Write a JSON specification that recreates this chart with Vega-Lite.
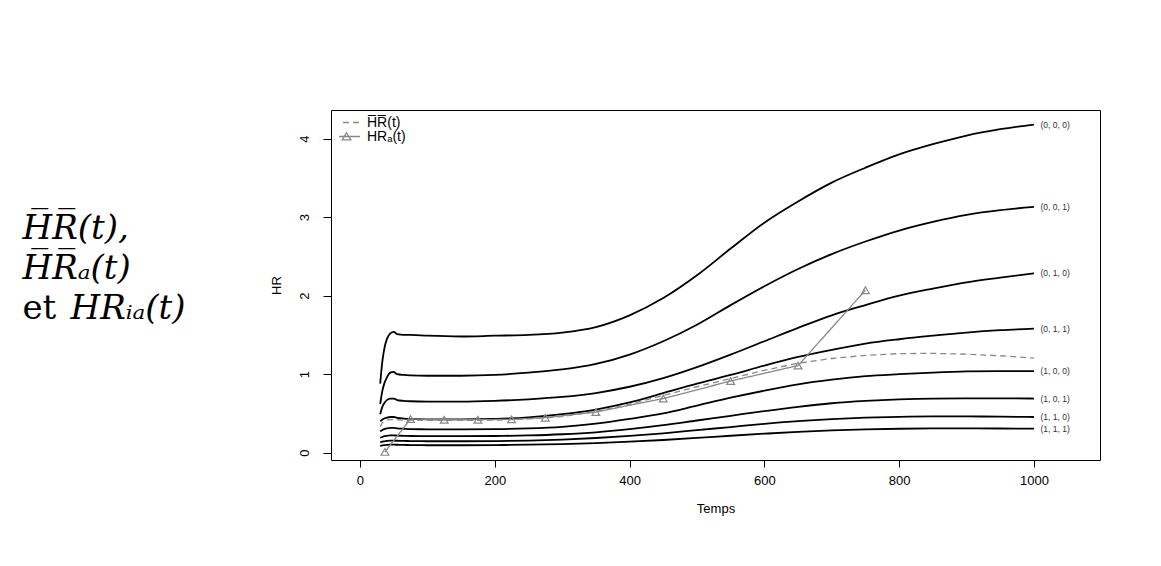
{
  "$schema": "https://vega.github.io/schema/vega-lite/v6.json",
  "background": "white",
  "padding": {"left": 22, "top": 109, "right": 0, "bottom": 0},
  "autosize": {"type": "pad"},
  "spacing": 308,
  "bounds": "flush",
  "config": {"font": "Liberation Sans", "axis": {"grid": false}},
  "datasets": {
    "textes": [
      {"ligne": 1, "texte": "H̅R̅(t),"},
      {"ligne": 2, "texte": "H̅R̅ₐ(t)"},
      {"ligne": 3, "texte": "HRᵢₐ(t)"}
    ],
    "courbes": [
      {"serie":"(0, 0, 0)","t":30,"hr":0.88},{"serie":"(0, 0, 0)","t":33,"hr":1.15},{"serie":"(0, 0, 0)","t":36,"hr":1.32},{"serie":"(0, 0, 0)","t":40,"hr":1.45},{"serie":"(0, 0, 0)","t":45,"hr":1.52},{"serie":"(0, 0, 0)","t":50,"hr":1.54},{"serie":"(0, 0, 0)","t":55,"hr":1.51},{"serie":"(0, 0, 0)","t":65,"hr":1.5},{"serie":"(0, 0, 0)","t":75,"hr":1.5},{"serie":"(0, 0, 0)","t":100,"hr":1.49},{"serie":"(0, 0, 0)","t":150,"hr":1.48},{"serie":"(0, 0, 0)","t":200,"hr":1.49},{"serie":"(0, 0, 0)","t":250,"hr":1.5},{"serie":"(0, 0, 0)","t":300,"hr":1.53},{"serie":"(0, 0, 0)","t":350,"hr":1.6},{"serie":"(0, 0, 0)","t":400,"hr":1.75},{"serie":"(0, 0, 0)","t":450,"hr":1.97},{"serie":"(0, 0, 0)","t":500,"hr":2.26},{"serie":"(0, 0, 0)","t":550,"hr":2.6},{"serie":"(0, 0, 0)","t":600,"hr":2.93},{"serie":"(0, 0, 0)","t":650,"hr":3.2},{"serie":"(0, 0, 0)","t":700,"hr":3.44},{"serie":"(0, 0, 0)","t":750,"hr":3.63},{"serie":"(0, 0, 0)","t":800,"hr":3.8},{"serie":"(0, 0, 0)","t":850,"hr":3.93},{"serie":"(0, 0, 0)","t":900,"hr":4.04},{"serie":"(0, 0, 0)","t":950,"hr":4.12},{"serie":"(0, 0, 0)","t":1000,"hr":4.18},
      {"serie":"(0, 0, 1)","t":30,"hr":0.62},{"serie":"(0, 0, 1)","t":33,"hr":0.78},{"serie":"(0, 0, 1)","t":36,"hr":0.88},{"serie":"(0, 0, 1)","t":40,"hr":0.96},{"serie":"(0, 0, 1)","t":45,"hr":1.02},{"serie":"(0, 0, 1)","t":50,"hr":1.03},{"serie":"(0, 0, 1)","t":55,"hr":1.0},{"serie":"(0, 0, 1)","t":65,"hr":0.99},{"serie":"(0, 0, 1)","t":75,"hr":0.985},{"serie":"(0, 0, 1)","t":100,"hr":0.98},{"serie":"(0, 0, 1)","t":150,"hr":0.98},{"serie":"(0, 0, 1)","t":200,"hr":0.99},{"serie":"(0, 0, 1)","t":250,"hr":1.02},{"serie":"(0, 0, 1)","t":300,"hr":1.06},{"serie":"(0, 0, 1)","t":350,"hr":1.13},{"serie":"(0, 0, 1)","t":400,"hr":1.25},{"serie":"(0, 0, 1)","t":450,"hr":1.42},{"serie":"(0, 0, 1)","t":500,"hr":1.63},{"serie":"(0, 0, 1)","t":550,"hr":1.88},{"serie":"(0, 0, 1)","t":600,"hr":2.12},{"serie":"(0, 0, 1)","t":650,"hr":2.34},{"serie":"(0, 0, 1)","t":700,"hr":2.53},{"serie":"(0, 0, 1)","t":750,"hr":2.69},{"serie":"(0, 0, 1)","t":800,"hr":2.83},{"serie":"(0, 0, 1)","t":850,"hr":2.94},{"serie":"(0, 0, 1)","t":900,"hr":3.03},{"serie":"(0, 0, 1)","t":950,"hr":3.09},{"serie":"(0, 0, 1)","t":1000,"hr":3.13},
      {"serie":"(0, 1, 0)","t":30,"hr":0.49},{"serie":"(0, 1, 0)","t":33,"hr":0.58},{"serie":"(0, 1, 0)","t":36,"hr":0.63},{"serie":"(0, 1, 0)","t":40,"hr":0.67},{"serie":"(0, 1, 0)","t":45,"hr":0.69},{"serie":"(0, 1, 0)","t":50,"hr":0.69},{"serie":"(0, 1, 0)","t":55,"hr":0.67},{"serie":"(0, 1, 0)","t":65,"hr":0.66},{"serie":"(0, 1, 0)","t":75,"hr":0.655},{"serie":"(0, 1, 0)","t":100,"hr":0.65},{"serie":"(0, 1, 0)","t":150,"hr":0.65},{"serie":"(0, 1, 0)","t":200,"hr":0.66},{"serie":"(0, 1, 0)","t":250,"hr":0.68},{"serie":"(0, 1, 0)","t":300,"hr":0.71},{"serie":"(0, 1, 0)","t":350,"hr":0.76},{"serie":"(0, 1, 0)","t":400,"hr":0.84},{"serie":"(0, 1, 0)","t":450,"hr":0.95},{"serie":"(0, 1, 0)","t":500,"hr":1.09},{"serie":"(0, 1, 0)","t":550,"hr":1.25},{"serie":"(0, 1, 0)","t":600,"hr":1.42},{"serie":"(0, 1, 0)","t":650,"hr":1.59},{"serie":"(0, 1, 0)","t":700,"hr":1.75},{"serie":"(0, 1, 0)","t":750,"hr":1.88},{"serie":"(0, 1, 0)","t":800,"hr":2.0},{"serie":"(0, 1, 0)","t":850,"hr":2.09},{"serie":"(0, 1, 0)","t":900,"hr":2.17},{"serie":"(0, 1, 0)","t":950,"hr":2.23},{"serie":"(0, 1, 0)","t":1000,"hr":2.285},
      {"serie":"(0, 1, 1)","t":30,"hr":0.4},{"serie":"(0, 1, 1)","t":33,"hr":0.42},{"serie":"(0, 1, 1)","t":36,"hr":0.435},{"serie":"(0, 1, 1)","t":40,"hr":0.447},{"serie":"(0, 1, 1)","t":45,"hr":0.455},{"serie":"(0, 1, 1)","t":50,"hr":0.455},{"serie":"(0, 1, 1)","t":55,"hr":0.445},{"serie":"(0, 1, 1)","t":65,"hr":0.435},{"serie":"(0, 1, 1)","t":75,"hr":0.43},{"serie":"(0, 1, 1)","t":100,"hr":0.425},{"serie":"(0, 1, 1)","t":150,"hr":0.425},{"serie":"(0, 1, 1)","t":200,"hr":0.43},{"serie":"(0, 1, 1)","t":250,"hr":0.45},{"serie":"(0, 1, 1)","t":300,"hr":0.49},{"serie":"(0, 1, 1)","t":350,"hr":0.55},{"serie":"(0, 1, 1)","t":400,"hr":0.64},{"serie":"(0, 1, 1)","t":450,"hr":0.76},{"serie":"(0, 1, 1)","t":500,"hr":0.88},{"serie":"(0, 1, 1)","t":550,"hr":0.99},{"serie":"(0, 1, 1)","t":600,"hr":1.11},{"serie":"(0, 1, 1)","t":650,"hr":1.22},{"serie":"(0, 1, 1)","t":700,"hr":1.31},{"serie":"(0, 1, 1)","t":750,"hr":1.39},{"serie":"(0, 1, 1)","t":800,"hr":1.445},{"serie":"(0, 1, 1)","t":850,"hr":1.49},{"serie":"(0, 1, 1)","t":900,"hr":1.53},{"serie":"(0, 1, 1)","t":950,"hr":1.56},{"serie":"(0, 1, 1)","t":1000,"hr":1.58},
      {"serie":"(1, 0, 0)","t":30,"hr":0.27},{"serie":"(1, 0, 0)","t":33,"hr":0.29},{"serie":"(1, 0, 0)","t":36,"hr":0.3},{"serie":"(1, 0, 0)","t":40,"hr":0.31},{"serie":"(1, 0, 0)","t":45,"hr":0.315},{"serie":"(1, 0, 0)","t":50,"hr":0.315},{"serie":"(1, 0, 0)","t":55,"hr":0.31},{"serie":"(1, 0, 0)","t":65,"hr":0.305},{"serie":"(1, 0, 0)","t":75,"hr":0.3},{"serie":"(1, 0, 0)","t":100,"hr":0.298},{"serie":"(1, 0, 0)","t":150,"hr":0.297},{"serie":"(1, 0, 0)","t":200,"hr":0.3},{"serie":"(1, 0, 0)","t":250,"hr":0.31},{"serie":"(1, 0, 0)","t":300,"hr":0.33},{"serie":"(1, 0, 0)","t":350,"hr":0.37},{"serie":"(1, 0, 0)","t":400,"hr":0.43},{"serie":"(1, 0, 0)","t":450,"hr":0.5},{"serie":"(1, 0, 0)","t":500,"hr":0.6},{"serie":"(1, 0, 0)","t":550,"hr":0.7},{"serie":"(1, 0, 0)","t":600,"hr":0.79},{"serie":"(1, 0, 0)","t":650,"hr":0.87},{"serie":"(1, 0, 0)","t":700,"hr":0.93},{"serie":"(1, 0, 0)","t":750,"hr":0.975},{"serie":"(1, 0, 0)","t":800,"hr":1.0},{"serie":"(1, 0, 0)","t":850,"hr":1.02},{"serie":"(1, 0, 0)","t":900,"hr":1.035},{"serie":"(1, 0, 0)","t":950,"hr":1.04},{"serie":"(1, 0, 0)","t":1000,"hr":1.04},
      {"serie":"(1, 0, 1)","t":30,"hr":0.19},{"serie":"(1, 0, 1)","t":33,"hr":0.2},{"serie":"(1, 0, 1)","t":36,"hr":0.21},{"serie":"(1, 0, 1)","t":40,"hr":0.215},{"serie":"(1, 0, 1)","t":45,"hr":0.22},{"serie":"(1, 0, 1)","t":50,"hr":0.22},{"serie":"(1, 0, 1)","t":55,"hr":0.218},{"serie":"(1, 0, 1)","t":65,"hr":0.215},{"serie":"(1, 0, 1)","t":75,"hr":0.213},{"serie":"(1, 0, 1)","t":100,"hr":0.21},{"serie":"(1, 0, 1)","t":150,"hr":0.21},{"serie":"(1, 0, 1)","t":200,"hr":0.213},{"serie":"(1, 0, 1)","t":250,"hr":0.22},{"serie":"(1, 0, 1)","t":300,"hr":0.235},{"serie":"(1, 0, 1)","t":350,"hr":0.26},{"serie":"(1, 0, 1)","t":400,"hr":0.3},{"serie":"(1, 0, 1)","t":450,"hr":0.35},{"serie":"(1, 0, 1)","t":500,"hr":0.41},{"serie":"(1, 0, 1)","t":550,"hr":0.47},{"serie":"(1, 0, 1)","t":600,"hr":0.53},{"serie":"(1, 0, 1)","t":650,"hr":0.585},{"serie":"(1, 0, 1)","t":700,"hr":0.63},{"serie":"(1, 0, 1)","t":750,"hr":0.66},{"serie":"(1, 0, 1)","t":800,"hr":0.68},{"serie":"(1, 0, 1)","t":850,"hr":0.69},{"serie":"(1, 0, 1)","t":900,"hr":0.692},{"serie":"(1, 0, 1)","t":950,"hr":0.692},{"serie":"(1, 0, 1)","t":1000,"hr":0.69},
      {"serie":"(1, 1, 0)","t":30,"hr":0.13},{"serie":"(1, 1, 0)","t":33,"hr":0.14},{"serie":"(1, 1, 0)","t":36,"hr":0.145},{"serie":"(1, 1, 0)","t":40,"hr":0.15},{"serie":"(1, 1, 0)","t":45,"hr":0.153},{"serie":"(1, 1, 0)","t":50,"hr":0.153},{"serie":"(1, 1, 0)","t":55,"hr":0.152},{"serie":"(1, 1, 0)","t":65,"hr":0.15},{"serie":"(1, 1, 0)","t":75,"hr":0.148},{"serie":"(1, 1, 0)","t":100,"hr":0.146},{"serie":"(1, 1, 0)","t":150,"hr":0.146},{"serie":"(1, 1, 0)","t":200,"hr":0.148},{"serie":"(1, 1, 0)","t":250,"hr":0.155},{"serie":"(1, 1, 0)","t":300,"hr":0.167},{"serie":"(1, 1, 0)","t":350,"hr":0.187},{"serie":"(1, 1, 0)","t":400,"hr":0.213},{"serie":"(1, 1, 0)","t":450,"hr":0.247},{"serie":"(1, 1, 0)","t":500,"hr":0.287},{"serie":"(1, 1, 0)","t":550,"hr":0.327},{"serie":"(1, 1, 0)","t":600,"hr":0.367},{"serie":"(1, 1, 0)","t":650,"hr":0.402},{"serie":"(1, 1, 0)","t":700,"hr":0.428},{"serie":"(1, 1, 0)","t":750,"hr":0.446},{"serie":"(1, 1, 0)","t":800,"hr":0.457},{"serie":"(1, 1, 0)","t":850,"hr":0.462},{"serie":"(1, 1, 0)","t":900,"hr":0.462},{"serie":"(1, 1, 0)","t":950,"hr":0.459},{"serie":"(1, 1, 0)","t":1000,"hr":0.455},
      {"serie":"(1, 1, 1)","t":30,"hr":0.085},{"serie":"(1, 1, 1)","t":33,"hr":0.092},{"serie":"(1, 1, 1)","t":36,"hr":0.096},{"serie":"(1, 1, 1)","t":40,"hr":0.1},{"serie":"(1, 1, 1)","t":45,"hr":0.102},{"serie":"(1, 1, 1)","t":50,"hr":0.102},{"serie":"(1, 1, 1)","t":55,"hr":0.101},{"serie":"(1, 1, 1)","t":65,"hr":0.099},{"serie":"(1, 1, 1)","t":75,"hr":0.097},{"serie":"(1, 1, 1)","t":100,"hr":0.095},{"serie":"(1, 1, 1)","t":150,"hr":0.095},{"serie":"(1, 1, 1)","t":200,"hr":0.097},{"serie":"(1, 1, 1)","t":250,"hr":0.102},{"serie":"(1, 1, 1)","t":300,"hr":0.11},{"serie":"(1, 1, 1)","t":350,"hr":0.123},{"serie":"(1, 1, 1)","t":400,"hr":0.14},{"serie":"(1, 1, 1)","t":450,"hr":0.162},{"serie":"(1, 1, 1)","t":500,"hr":0.188},{"serie":"(1, 1, 1)","t":550,"hr":0.216},{"serie":"(1, 1, 1)","t":600,"hr":0.242},{"serie":"(1, 1, 1)","t":650,"hr":0.266},{"serie":"(1, 1, 1)","t":700,"hr":0.285},{"serie":"(1, 1, 1)","t":750,"hr":0.298},{"serie":"(1, 1, 1)","t":800,"hr":0.305},{"serie":"(1, 1, 1)","t":850,"hr":0.309},{"serie":"(1, 1, 1)","t":900,"hr":0.31},{"serie":"(1, 1, 1)","t":950,"hr":0.308},{"serie":"(1, 1, 1)","t":1000,"hr":0.306}
    ],
    "moyennes": [
      {"serie":"H̅R̅(t)","t":30,"hr":0.33},{"serie":"H̅R̅(t)","t":33,"hr":0.38},{"serie":"H̅R̅(t)","t":36,"hr":0.4},{"serie":"H̅R̅(t)","t":40,"hr":0.415},{"serie":"H̅R̅(t)","t":45,"hr":0.42},{"serie":"H̅R̅(t)","t":50,"hr":0.42},{"serie":"H̅R̅(t)","t":55,"hr":0.418},{"serie":"H̅R̅(t)","t":65,"hr":0.415},{"serie":"H̅R̅(t)","t":75,"hr":0.415},{"serie":"H̅R̅(t)","t":100,"hr":0.413},{"serie":"H̅R̅(t)","t":150,"hr":0.412},{"serie":"H̅R̅(t)","t":200,"hr":0.415},{"serie":"H̅R̅(t)","t":250,"hr":0.43},{"serie":"H̅R̅(t)","t":300,"hr":0.46},{"serie":"H̅R̅(t)","t":350,"hr":0.525},{"serie":"H̅R̅(t)","t":400,"hr":0.62},{"serie":"H̅R̅(t)","t":450,"hr":0.73},{"serie":"H̅R̅(t)","t":500,"hr":0.84},{"serie":"H̅R̅(t)","t":550,"hr":0.945},{"serie":"H̅R̅(t)","t":600,"hr":1.05},{"serie":"H̅R̅(t)","t":650,"hr":1.14},{"serie":"H̅R̅(t)","t":700,"hr":1.2},{"serie":"H̅R̅(t)","t":750,"hr":1.24},{"serie":"H̅R̅(t)","t":800,"hr":1.262},{"serie":"H̅R̅(t)","t":850,"hr":1.265},{"serie":"H̅R̅(t)","t":900,"hr":1.255},{"serie":"H̅R̅(t)","t":950,"hr":1.235},{"serie":"H̅R̅(t)","t":1000,"hr":1.205},
      {"serie":"HRₐ(t)","t":37,"hr":0.01},{"serie":"HRₐ(t)","t":75,"hr":0.43},{"serie":"HRₐ(t)","t":125,"hr":0.42},{"serie":"HRₐ(t)","t":175,"hr":0.42},{"serie":"HRₐ(t)","t":225,"hr":0.425},{"serie":"HRₐ(t)","t":275,"hr":0.446},{"serie":"HRₐ(t)","t":350,"hr":0.518},{"serie":"HRₐ(t)","t":450,"hr":0.69},{"serie":"HRₐ(t)","t":550,"hr":0.913},{"serie":"HRₐ(t)","t":650,"hr":1.11},{"serie":"HRₐ(t)","t":750,"hr":2.07}
    ]
  },
  "hconcat": [
    {
      "width": 1,
      "height": 350,
      "view": {"stroke": null},
      "data": {"name": "textes"},
      "encoding": {
        "y": {"field": "ligne", "type": "ordinal", "scale": {"type": "point", "range": [129, 209], "padding": 0}, "axis": null}
      },
      "layer": [
        {
          "transform": [{"filter": "datum.ligne < 3"}],
          "mark": {"type": "text", "align": "left", "baseline": "alphabetic", "font": "DejaVu Serif", "fontStyle": "italic", "fontSize": 34, "color": "black"},
          "encoding": {"text": {"field": "texte"}}
        },
        {
          "transform": [{"filter": "datum.ligne == 3"}],
          "mark": {"type": "text", "align": "left", "baseline": "alphabetic", "font": "DejaVu Serif", "fontStyle": "italic", "fontSize": 34, "color": "black", "dx": 48},
          "encoding": {"text": {"field": "texte"}}
        },
        {
          "transform": [{"filter": "datum.ligne == 3"}],
          "mark": {"type": "text", "align": "left", "baseline": "alphabetic", "font": "DejaVu Serif", "fontSize": 34, "color": "black", "text": "et"},
          "encoding": {}
        }
      ]
    },
    {
      "width": 769,
      "height": 350,
      "view": {"stroke": "black", "strokeWidth": 1},
      "encoding": {
        "x": {"field": "t", "type": "quantitative", "scale": {"domain": [-43, 1098], "nice": false, "zero": false},
              "axis": {"values": [0, 200, 400, 600, 800, 1000], "format": "d", "domain": false, "tickColor": "black", "tickSize": 7, "labelFontSize": 13, "labelColor": "black", "labelPadding": 7, "title": "Temps", "titleFontSize": 13, "titleFontWeight": "normal", "titleColor": "black", "titleY": 52, "titleBaseline": "alphabetic"}},
        "y": {"field": "hr", "type": "quantitative", "scale": {"domain": [-0.093, 4.365], "nice": false, "zero": false},
              "axis": {"values": [0, 1, 2, 3, 4], "domain": false, "tickColor": "black", "tickSize": 8, "labelFontSize": 13, "labelColor": "black", "labelAngle": -90, "labelAlign": "center", "labelBaseline": "alphabetic", "labelPadding": 15, "title": "HR", "titleFontSize": 13, "titleFontWeight": "normal", "titleColor": "black", "titleAngle": 270, "titleX": -51, "titleY": 175, "titleAlign": "center", "titleBaseline": "alphabetic"}}
      },
      "layer": [
        {
          "data": {"name": "courbes"},
          "mark": {"type": "line", "color": "black", "strokeWidth": 1.8, "interpolate": "monotone"},
          "encoding": {"detail": {"field": "serie"}}
        },
        {
          "data": {"name": "courbes"},
          "transform": [{"filter": "datum.t == 1000"}],
          "mark": {"type": "text", "align": "left", "baseline": "middle", "dx": 6.5, "fontSize": 8.5, "color": "#333333"},
          "encoding": {"text": {"field": "serie"}}
        },
        {
          "data": {"name": "moyennes"},
          "mark": {"type": "line", "color": "#888888", "strokeWidth": 1.3},
          "encoding": {
            "strokeDash": {"field": "serie", "type": "nominal",
              "scale": {"domain": ["H̅R̅(t)", "HRₐ(t)"], "range": [[6, 4], [1, 0]]},
              "legend": {"orient": "none", "legendX": 317, "legendY": 6.5, "title": null, "padding": 0,
                "labelFont": "Liberation Sans", "labelFontSize": 14, "labelColor": "black", "labelOffset": 13,
                "symbolSize": 182, "symbolStrokeColor": "#888888", "symbolStrokeWidth": 1.3, "symbolFillColor": "transparent",
                "clipHeight": 12, "rowPadding": 0,
                "encode": {"symbols": {"update": {"shape": {"signal": "datum.index === 1 ? 'M-2,0L2,0M0,-0.55L0.65,0.5L-0.65,0.5Z' : 'M-2,0L2,0'"}}}}}
            }
          }
        },
        {
          "data": {"name": "moyennes"},
          "transform": [{"filter": "datum.serie == 'HRₐ(t)'"}],
          "mark": {"type": "point", "shape": "triangle-up", "filled": false, "color": "#888888", "size": 60, "strokeWidth": 1.2, "opacity": 1}
        }
      ]
    }
  ]
}
